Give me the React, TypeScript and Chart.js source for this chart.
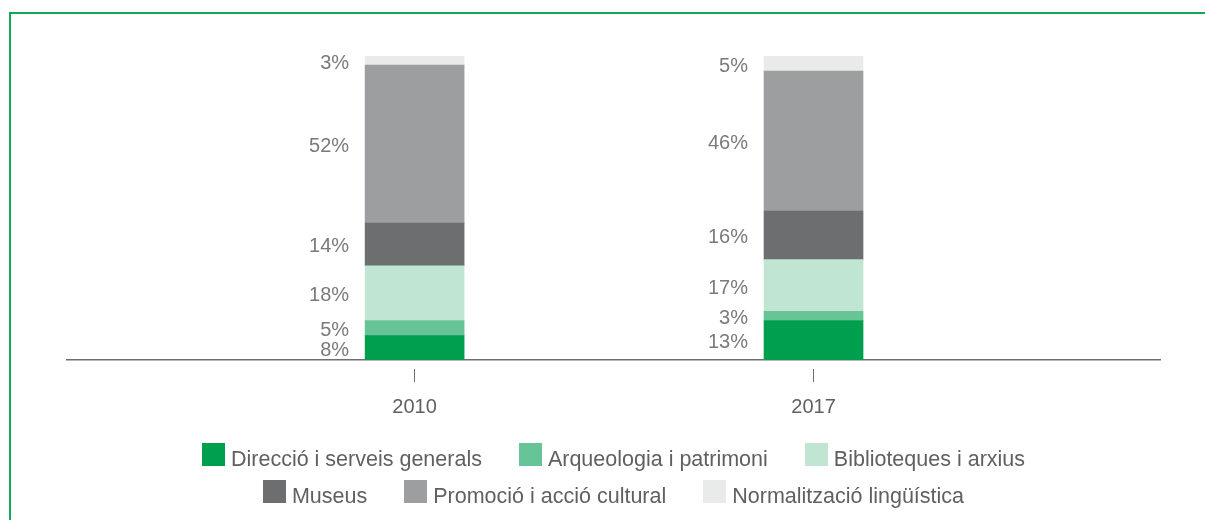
import React, { useEffect, useRef } from 'react';
import { Chart, registerables } from 'chart.js';

Chart.register(...registerables);

// ---- data ----
const years = [2010, 2017];
const direccio = [8, 13];
const arqueologia = [5, 3];
const biblioteques = [18, 17];
const museus = [14, 16];
const promocio = [52, 46];
const normalitzacio = [3, 5];

const seriesLabels = [
  'Direcció i serveis generals',
  'Arqueologia i patrimoni',
  'Biblioteques i arxius',
  'Museus',
  'Promoció i acció cultural',
  'Normalització lingüística',
];
const seriesColors = ['#009f4d', '#66c497', '#c0e6d3', '#6d6e70', '#9d9ea0', '#e9eaea'];
const seriesValues = [direccio, arqueologia, biblioteques, museus, promocio, normalitzacio];

// ---- layout / style constants ----
const FONT = '"Liberation Sans", Helvetica, Arial, sans-serif';
const LEGEND_ROWS = [[0, 1, 2], [3, 4, 5]];

const valueLabelsPlugin = {
  id: 'valueLabels',
  afterDatasetsDraw(chart: any) {
    const ctx = chart.ctx;
    ctx.save();
    ctx.font = `20px ${FONT}`;
    ctx.fillStyle = '#7a7a7c';
    ctx.textAlign = 'right';
    ctx.textBaseline = 'alphabetic';
    chart.data.datasets.forEach((ds: any, i: number) => {
      const meta = chart.getDatasetMeta(i);
      meta.data.forEach((el: any, j: number) => {
        const { x, y, base, width } = el.getProps(['x', 'y', 'base', 'width'], true);
        ctx.fillText(`${ds.data[j]}%`, x - width / 2 - 16, (y + base) / 2 + 8);
      });
    });
    ctx.restore();
  },
};

const tickMarksPlugin = {
  id: 'tickMarks',
  afterDraw(chart: any) {
    const ctx = chart.ctx;
    const scale = chart.scales.x;
    const bottom = chart.chartArea.bottom;
    ctx.save();
    ctx.strokeStyle = '#6d6e71';
    ctx.lineWidth = 1;
    scale.ticks.forEach((t: any) => {
      const px = Math.round(scale.getPixelForValue(t.value)) - 0.5;
      ctx.beginPath();
      ctx.moveTo(px, bottom + 9);
      ctx.lineTo(px, bottom + 22);
      ctx.stroke();
    });
    ctx.restore();
  },
};

const customLegendPlugin = {
  id: 'customLegend',
  afterDraw(chart: any) {
    const ctx = chart.ctx;
    const { left, right, bottom } = chart.chartArea;
    const cx = (left + right) / 2;
    const box = 23;
    const gapText = 6;
    const gapItem = 37;
    const baselines = [bottom + 106, bottom + 143];
    ctx.save();
    ctx.font = `21.5px ${FONT}`;
    ctx.textAlign = 'left';
    ctx.textBaseline = 'alphabetic';
    LEGEND_ROWS.forEach((row, r) => {
      const widths = row.map((i) => ctx.measureText(chart.data.datasets[i].label).width);
      const total = widths.reduce((a, w) => a + box + gapText + w, 0) + gapItem * (row.length - 1);
      let x = cx - total / 2;
      const base = baselines[r];
      row.forEach((i, k) => {
        const ds = chart.data.datasets[i];
        ctx.fillStyle = ds.backgroundColor;
        ctx.fillRect(Math.round(x), base - box, box, box);
        ctx.fillStyle = '#606062';
        ctx.fillText(ds.label, x + box + gapText, base);
        x += box + gapText + widths[k] + gapItem;
      });
    });
    ctx.restore();
  },
};

export default function App() {
  const canvasRef = useRef<HTMLCanvasElement | null>(null);

  useEffect(() => {
    if (!canvasRef.current) return;
    const chart = new Chart(canvasRef.current, {
      type: 'bar',
      data: {
        labels: years,
        datasets: seriesLabels.map((label, i) => ({
          label,
          data: seriesValues[i],
          backgroundColor: seriesColors[i],
          borderWidth: 0,
          barThickness: 99,
        })),
      },
      options: {
        animation: false,
        responsive: false,
        events: [],
        layout: { padding: { top: 56, left: 67, right: 45, bottom: 0 } },
        plugins: {
          legend: { display: false },
          tooltip: { enabled: false },
        },
        scales: {
          x: {
            type: 'linear',
            stacked: true,
            offset: false,
            min: 2003.9,
            max: 2023.08,
            z: 1,
            afterBuildTicks: (scale: any) => {
              scale.ticks = years.map((v) => ({ value: v }));
            },
            afterFit: (scale: any) => {
              scale.height = 160;
            },
            grid: { display: false, drawTicks: false },
            border: { display: true, color: '#6d6e71', width: 1.5 },
            ticks: {
              autoSkip: false,
              maxRotation: 0,
              padding: 35,
              color: '#606062',
              font: { family: FONT, size: 20 },
              callback: (v: any) => String(v),
            },
          },
          y: {
            stacked: true,
            display: false,
            min: 0,
            max: 100,
          },
        },
      } as any,
      plugins: [valueLabelsPlugin, tickMarksPlugin, customLegendPlugin],
    });
    return () => chart.destroy();
  }, []);

  return (
    <div style={{ position: 'absolute', left: 0, top: 0, width: 1205, height: 520, background: '#ffffff', overflow: 'hidden' }}>
      <div
        style={{
          position: 'absolute',
          left: 9,
          top: 12,
          width: 1205 - 9,
          height: 520 - 12,
          borderTop: '2px solid #12a85c',
          borderLeft: '2px solid #12a85c',
          boxSizing: 'border-box',
        }}
      />
      <canvas ref={canvasRef} width={1205} height={520} style={{ position: 'absolute', left: 0, top: 0, display: 'block' }} />
    </div>
  );
}
